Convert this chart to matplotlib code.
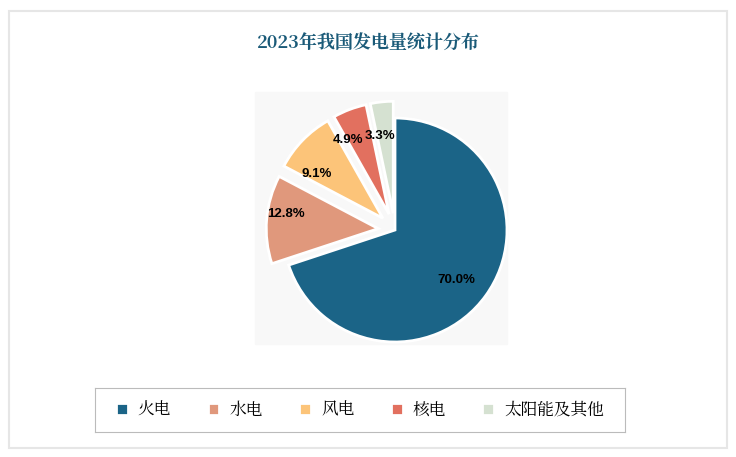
import matplotlib
matplotlib.use("Agg")
import matplotlib.pyplot as plt
from matplotlib.patches import Rectangle
from matplotlib import font_manager as fm

cjk = [f.name for f in fm.fontManager.ttflist if 'CJK' in f.name]
fam = 'Noto Sans CJK SC' if 'Noto Sans CJK SC' in cjk else (cjk[0] if cjk else 'DejaVu Sans')
plt.rcParams['font.family'] = 'sans-serif'
plt.rcParams['font.sans-serif'] = [fam, 'DejaVu Sans']

categories = ['火电', '水电', '风电', '核电', '太阳能及其他']
values = [70.0, 12.8, 9.1, 4.9, 3.3]
labels = ['70.0%', '12.8%', '9.1%', '4.9%', '3.3%']
colors = ['#1b6487', '#e0987c', '#fcc479', '#e2705f', '#d5e1d1']

fig = plt.figure(figsize=(7.36, 4.57), dpi=100)
fig.patches.append(Rectangle((0.012, 0.02), 0.976, 0.955, transform=fig.transFigure,
                             fill=False, edgecolor='#e6e6e6', lw=1.5))
fig.text(0.5, 0.905, '2023年我国发电量统计分布', ha='center', va='center',
         fontsize=13, color='#1a5a78', fontweight='bold')

r = 112
ax = fig.add_axes([(395 - 1.3 * r) / 736, 1 - (230 + 1.3 * r) / 457, 2.6 * r / 736, 2.6 * r / 457])
ax.add_patch(Rectangle((-1.25, -1.02), 2.25, 2.25, color='#f8f8f8', zorder=0))
wedges, texts = ax.pie(values, colors=colors, startangle=90, counterclock=False,
                       explode=[0, 0.15, 0.15, 0.15, 0.15], shadow=False,
                       wedgeprops=dict(edgecolor='white', linewidth=2))
pos = [(0.55, -0.45), (-0.97, 0.14), (-0.7, 0.5), (-0.42, 0.8), (-0.13, 0.84)]
for (x, y), t in zip(pos, labels):
    ax.text(x, y, t, ha='center', va='center', fontsize=9.5, fontweight='bold',
            color='black', family='Liberation Sans')
ax.set_xlim(-1.3, 1.3)
ax.set_ylim(-1.3, 1.3)
ax.set_aspect('equal')
ax.axis('off')

lax = fig.add_axes([95 / 736, 1 - 432 / 457, 530 / 736, 44 / 457])
lax.set_xticks([]); lax.set_yticks([])
for s in lax.spines.values():
    s.set_color('#bbbbbb')
lax.legend(wedges, categories, loc='center', ncol=5, frameon=False, fontsize=12,
           handlelength=0.7, handleheight=0.7, columnspacing=2.2, handletextpad=0.6)
fig.savefig('out.png', dpi=100)
